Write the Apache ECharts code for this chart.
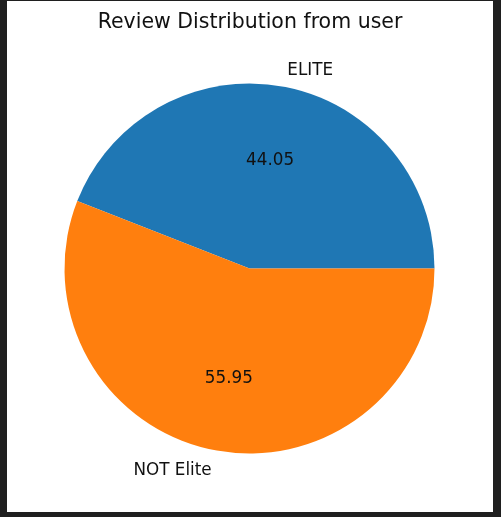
<!DOCTYPE html>
<html>
<head>
<meta charset="utf-8">
<script src="https://cdn.jsdelivr.net/npm/echarts@6/dist/echarts.min.js"></script>
<style>
    html, body { margin: 0; padding: 0; background: #1f1f1f; }
    #chart { position: absolute; left: 7px; top: 1px; width: 486px; height: 511px; background: #fff; }
</style>
</head>
<body>
<div id="chart"></div>
<script>
// 数据
var categories = ['ELITE', 'NOT Elite'];
var shares = [44.05, 55.95];
var colors = ['#1f77b4', '#ff7f0e'];

var pieData = categories.map(function (name, i) {
    return { name: name, value: shares[i], itemStyle: { color: colors[i] } };
});

var chart = echarts.init(document.getElementById('chart'));

var R = 185;
var center = [242.5, 267.5];

var option = {
    animation: false,
    title: {
        text: 'Review Distribution from user',
        left: 'center',
        top: 11,
        padding: 0,
        textStyle: {
            fontFamily: 'DejaVu Sans',
            fontSize: 20.5,
            fontWeight: 'normal',
            color: '#111',
            lineHeight: 22
        }
    },
    series: [
        {
            // 扇形 + 外侧名称
            type: 'pie',
            center: center,
            radius: [0, R],
            startAngle: 0,
            clockwise: false,
            avoidLabelOverlap: false,
            silent: true,
            data: pieData,
            label: {
                show: true,
                position: 'outside',
                formatter: '{b}',
                distanceToLabelLine: 0,
                offset: [0, 2],
                fontFamily: 'DejaVu Sans',
                fontSize: 16.8,
                color: '#111'
            },
            labelLine: { show: false, length: R * 0.1, length2: 0 }
        },
        {
            // 百分比标签, 透明层, 内部标签落在 0.6R (echarts 内部标签会再外移 3px)
            type: 'pie',
            center: center,
            radius: [0, R * 1.2 - 6],
            startAngle: 0,
            clockwise: false,
            silent: true,
            data: pieData.map(function (d) {
                return { name: d.name, value: d.value, itemStyle: { color: 'transparent' } };
            }),
            label: {
                show: true,
                position: 'inside',
                formatter: function (p) { return p.value.toFixed(2); },
                offset: [0, 1.5],
                fontFamily: 'DejaVu Sans',
                fontSize: 16.8,
                color: '#111'
            },
            labelLine: { show: false }
        }
    ]
};

chart.setOption(option);
</script>
</body>
</html>
